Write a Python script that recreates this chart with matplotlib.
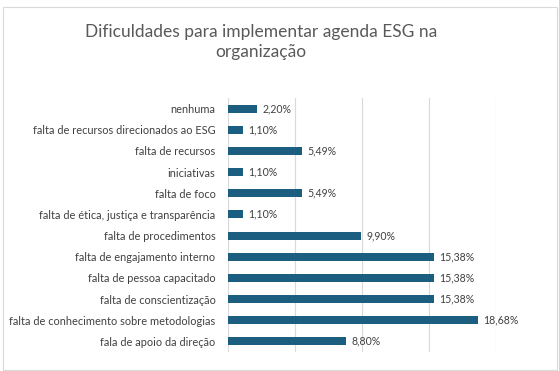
import matplotlib.pyplot as plt
from matplotlib.patches import Rectangle

# Dados (de baixo para cima, como no gráfico)
categorias = [
    'fala de apoio da direção',
    'falta de conhecimento sobre metodologias',
    'falta de conscientização',
    'falta de pessoa capacitado',
    'falta de engajamento interno',
    'falta de procedimentos',
    'falta de ética, justiça e transparência',
    'falta de foco',
    'iniciativas',
    'falta de recursos',
    'falta de recursos direcionados ao ESG',
    'nenhuma',
]
valores = [8.80, 18.68, 15.38, 15.38, 15.38, 9.90, 1.10, 5.49, 1.10, 5.49, 1.10, 2.20]

plt.rcParams['font.family'] = ['Lato', 'DejaVu Sans']

fig = plt.figure(figsize=(5.59, 3.71), dpi=100)
ax = fig.add_axes([228 / 559, 1 - 352 / 371, 268 / 559, 254 / 371])

pos = list(range(len(categorias)))
ax.barh(pos, valores, height=0.38, color='#1B5E80', zorder=3)

for y, v in zip(pos, valores):
    txt = f'{v:.2f}'.replace('.', ',') + '%'
    ax.text(v + 0.4, y, txt, va='center', ha='left', fontsize=7.6, color='#404040')

ax.set_xlim(0, 20)
ax.set_ylim(-0.5, len(categorias) - 0.5)
ax.set_xticks([0, 5, 10, 15, 20])
ax.xaxis.grid(True, color='#d9d9d9', linewidth=0.8, zorder=0)
ax.set_yticks(pos)
ax.set_yticklabels(categorias, fontsize=7.9, color='#404040')
ax.tick_params(axis='x', length=0, labelbottom=False)
ax.tick_params(axis='y', length=0, pad=9)
for s in ax.spines.values():
    s.set_visible(False)

fig.text(261 / 559, 1 - 32 / 371, 'Dificuldades para implementar agenda ESG na',
         ha='center', va='center', fontsize=12.5, color='#595959')
fig.text(261 / 559, 1 - 52 / 371, 'organização',
         ha='center', va='center', fontsize=12.5, color='#595959')

# moldura do gráfico
fig.patches.append(Rectangle((3 / 559, 1 - 370 / 371), 554 / 559, 363 / 371,
                             transform=fig.transFigure, fill=False,
                             edgecolor='#d9d9d9', linewidth=0.8))

fig.savefig('out.png', dpi=100)
